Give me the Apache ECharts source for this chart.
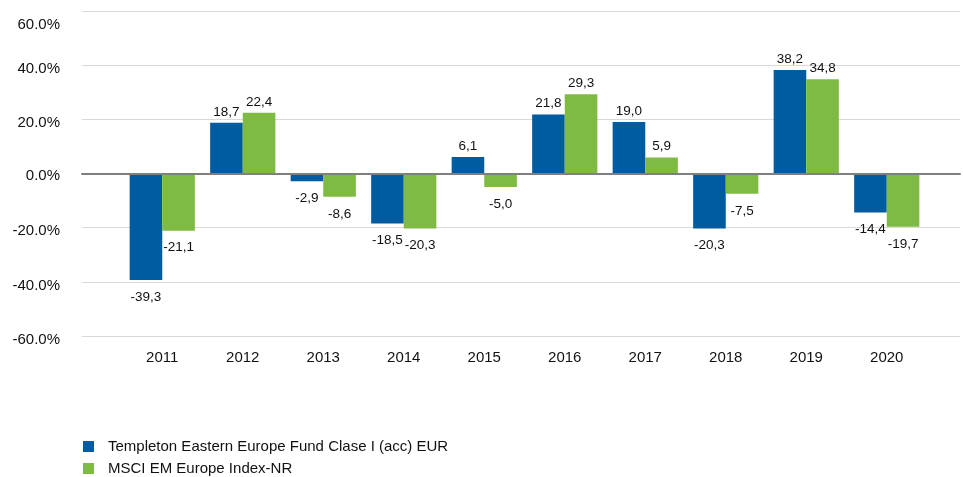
<!DOCTYPE html>
<html><head><meta charset="utf-8">
<script src="https://cdn.jsdelivr.net/npm/echarts@6/dist/echarts.min.js"></script>
<style>html,body{margin:0;padding:0;background:#fff}#c{width:963px;height:477px}</style>
</head><body><div id="c"></div>
<script>
const categories = ['2011','2012','2013','2014','2015','2016','2017','2018','2019','2020'];
const fundName = 'Templeton Eastern Europe Fund Clase I (acc) EUR';
const indexName = 'MSCI EM Europe Index-NR';
const fundValues = [-39.3, 18.7, -2.9, -18.5, 6.1, 21.8, 19.0, -20.3, 38.2, -14.4];
const indexValues = [-21.1, 22.4, -8.6, -20.3, -5.0, 29.3, 5.9, -7.5, 34.8, -19.7];
const yTicks = {min: -60, max: 60, interval: 20};

const FONT = '"Liberation Sans", Arial, sans-serif';
// vertical nudges (px) of y tick labels relative to their grid lines
const labelShift = {'60': 14, '40': 4, '20': 4, '0': 2, '-20': 3, '-40': 4, '-60': 4};
const rich = {};
Object.keys(labelShift).forEach(k => {
  const key = 's' + String(k).replace('-', 'm');
  rich[key] = {fontFamily: FONT, fontSize: 15, color: '#111', padding: [labelShift[k] * 2, 0, 0, 0]};
});
function items(vals){
  return vals.map(v => ({value: v, label: v >= 0 ? {position: 'top', distance: 4} : {position: 'bottom', distance: 10}}));
}
const chart = echarts.init(document.getElementById('c'), null, {renderer: 'canvas'});
chart.setOption({
  animation: false,
  textStyle: {fontFamily: FONT},
  grid: [
    {left: 82, right: 3, top: 11, bottom: 141},
    {left: 122, right: 36, top: 11, bottom: 141}
  ],
  legend: {
    orient: 'vertical', left: 83, top: 439, padding: 0, itemWidth: 11, itemHeight: 11, itemGap: 7,
    icon: 'rect',
    textStyle: {fontFamily: FONT, fontSize: 15, color: '#111', lineHeight: 15, padding: [0,0,0,9]},
    data: [fundName, indexName]
  },
  xAxis: [
    {gridIndex: 0, type: 'value', min: 0, max: 1, z: 5,
     axisLine: {show: true, onZero: true, lineStyle: {color: '#7f7f7f', width: 2}},
     axisTick: {show: false}, axisLabel: {show: false}, splitLine: {show: false}},
    {gridIndex: 1, type: 'category', data: categories,
     axisLine: {show: false}, axisTick: {show: false},
     axisLabel: {fontFamily: FONT, fontSize: 15, color: '#111', margin: 14}}
  ],
  yAxis: [
    {gridIndex: 0, type: 'value', min: yTicks.min, max: yTicks.max, interval: yTicks.interval,
     axisLine: {show: false}, axisTick: {show: false},
     axisLabel: {fontFamily: FONT, fontSize: 15, color: '#111', margin: 22, rich: rich,
       formatter: v => '{s' + String(Math.round(v)).replace('-', 'm') + '|' + v.toFixed(1) + '%}'},
     splitLine: {lineStyle: {color: '#d9d9d9', width: 1}}},
    {gridIndex: 1, type: 'value', min: yTicks.min, max: yTicks.max, interval: yTicks.interval, show: false,
     splitLine: {show: false}}
  ],
  series: [
    {name: fundName, type: 'bar', xAxisIndex: 1, yAxisIndex: 1, data: items(fundValues),
     barGap: '0%', barCategoryGap: '19%', itemStyle: {color: '#005ca1'},
     label: {show: true, fontFamily: FONT, fontSize: 13.5, color: '#111',
       formatter: p => p.value.toFixed(1).replace('.', ',')}},
    {name: indexName, type: 'bar', xAxisIndex: 1, yAxisIndex: 1, data: items(indexValues),
     barGap: '0%', barCategoryGap: '19%', itemStyle: {color: '#7fba42'},
     label: {show: true, fontFamily: FONT, fontSize: 13.5, color: '#111',
       formatter: p => p.value.toFixed(1).replace('.', ',')}}
  ]
});
</script></body></html>
